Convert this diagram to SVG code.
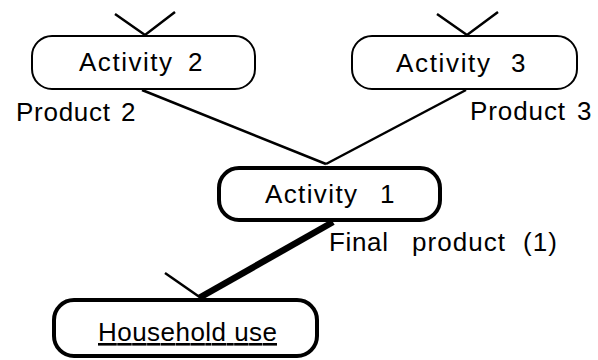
<svg xmlns="http://www.w3.org/2000/svg" width="598" height="360" viewBox="0 0 598 360">
<style>
text{font-family:"Liberation Sans",Arial,sans-serif;font-size:26px;fill:#000}
.box{fill:#fff;stroke:#000}
.thin{stroke-width:2}
.bold{stroke-width:4}
.ln{stroke:#000;stroke-width:2.5;fill:none;stroke-linecap:butt}
</style>
<rect width="598" height="360" fill="#fff"/>
<g id="connectors">
<polyline class="ln" points="115,14 145,35 175,12"/>
<polyline class="ln" points="437,14 467,35 498,12"/>
<line class="ln" x1="142" y1="90" x2="326" y2="164"/>
<line class="ln" x1="466" y1="90" x2="326" y2="164"/>
<line class="ln" x1="165" y1="273" x2="201" y2="298"/>
<line x1="333" y1="222" x2="199" y2="298" stroke="#000" stroke-width="6.5"/>
</g>
<g id="activity2">
<rect class="box thin" x="32" y="36" width="223" height="53" rx="20"/>
<text y="71"><tspan x="79" textLength="93">Activity</tspan> <tspan x="188">2</tspan></text>
</g>
<g id="activity3">
<rect class="box thin" x="352" y="36" width="225" height="53" rx="20"/>
<text y="72"><tspan x="396" textLength="94">Activity</tspan> <tspan x="511">3</tspan></text>
</g>
<g id="product2">
<text y="121"><tspan x="16" textLength="94">Product</tspan> <tspan x="121">2</tspan></text>
</g>
<g id="product3">
<text y="120"><tspan x="470" textLength="95">Product</tspan> <tspan x="577">3</tspan></text>
</g>
<g id="activity1">
<rect class="box bold" x="219" y="168" width="221" height="52" rx="20"/>
<text y="203"><tspan x="265" textLength="92">Activity</tspan> <tspan x="380">1</tspan></text>
</g>
<g id="finalproduct">
<text y="251"><tspan x="329" textLength="59">Final</tspan> <tspan x="412" textLength="93">product</tspan> <tspan x="523" textLength="34">(1)</tspan></text>
</g>
<g id="household">
<rect class="box bold" x="54" y="300" width="263" height="56" rx="20"/>
<text x="98" y="341" textLength="179" text-decoration="underline">Household use</text>
</g>
</svg>
